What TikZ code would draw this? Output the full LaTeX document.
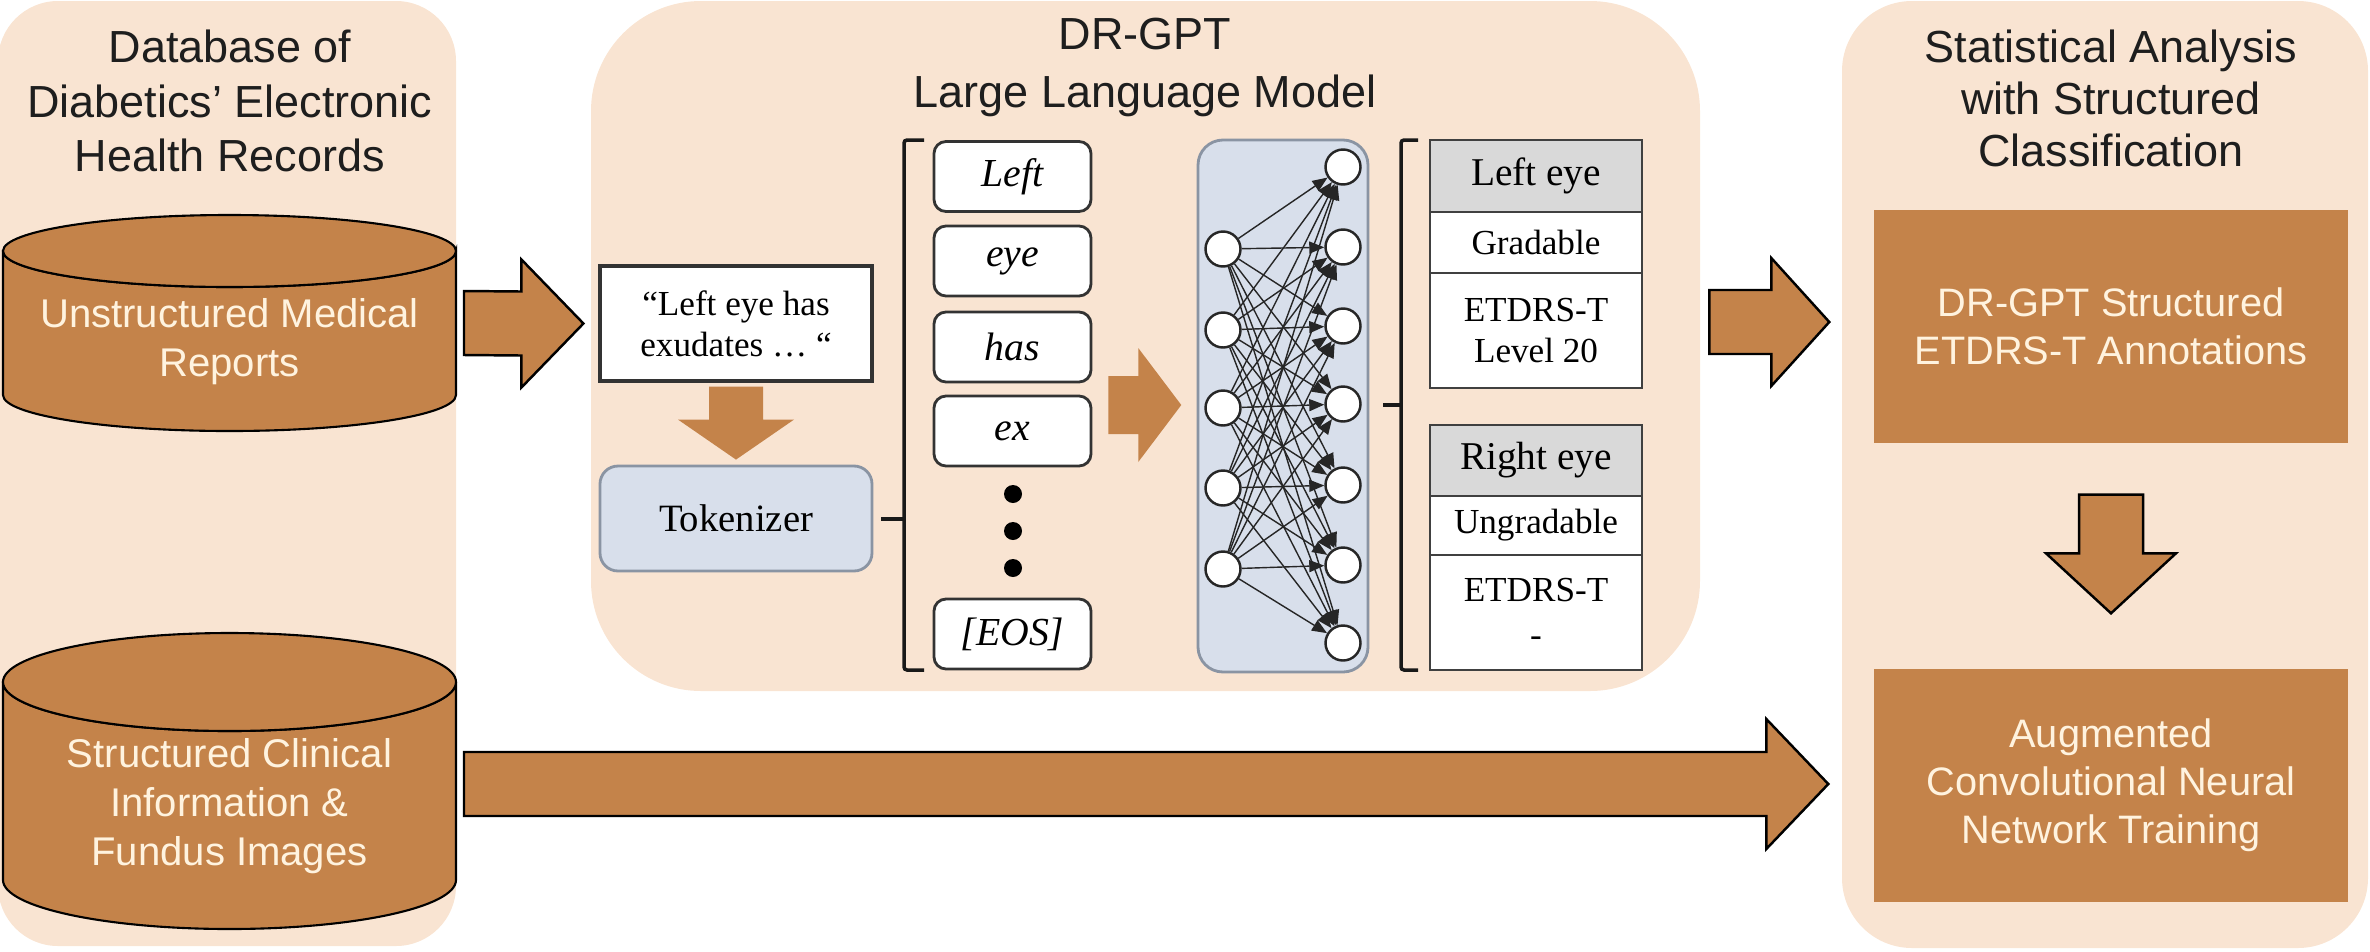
\documentclass[tikz,border=0pt]{standalone}
\usepackage{fontspec}
\setmainfont{Liberation Serif}
\newfontfamily\arialf{Liberation Sans}
\usetikzlibrary{calc,arrows.meta}
\definecolor{peach}{HTML}{F9E4D2}
\definecolor{brownf}{HTML}{C4834A}
\definecolor{cream}{HTML}{FFF3DF}
\definecolor{bluegray}{HTML}{D8DFEB}
\definecolor{bgborder}{HTML}{8A94A3}
\definecolor{hdrgray}{HTML}{D9D9D9}
\definecolor{inkc}{HTML}{1E1E1E}

\newcommand{\blockR}[6]{%
  \path[#1] ($(#2)+(0,-#5)$) -- ($(#3)+(-#4,-#5)$) -- ($(#3)+(-#4,-#6)$) -- (#3)
     -- ($(#3)+(-#4,#6)$) -- ($(#3)+(-#4,#5)$) -- ($(#2)+(0,#5)$) -- cycle;}
\newcommand{\blockD}[6]{%
  \path[#1] ($(#2)+(-#5,0)$) -- ($(#3)+(-#5,-#4)$) -- ($(#3)+(-#6,-#4)$) -- (#3)
     -- ($(#3)+(#6,-#4)$) -- ($(#3)+(#5,-#4)$) -- ($(#2)+(#5,0)$) -- cycle;}

\begin{document}
\begin{tikzpicture}[x=0.1mm,y=-0.1mm,
  panel/.style={fill=peach,draw=none},
  cyl/.style={fill=brownf,draw=black,line width=0.6pt},
  barrow/.style={fill=brownf,draw=black,line width=0.7pt,line join=miter},
  barrowplain/.style={fill=brownf,draw=none},
  cyltext/.style={text=cream,font=\arialf\fontsize{11.4}{13.9}\selectfont,align=center,inner sep=0},
  ptitle/.style={text=inkc,font=\arialf\fontsize{12.8}{15.4}\selectfont,align=center,inner sep=0},
  brownbox/.style={fill=brownf,draw=none,text=cream,font=\arialf\fontsize{11.3}{13.6}\selectfont,align=center,minimum width=47.4mm,minimum height=23.3mm,inner sep=0},
  tokbox/.style={draw=black!80,line width=0.8pt,fill=white,rounded corners=1.2mm,minimum width=15.7mm,minimum height=7mm,inner sep=0,font=\itshape\fontsize{11.3}{13}\selectfont},
  neuron/.style={circle,draw=black!85,line width=0.7pt,fill=white,minimum size=3.5mm,inner sep=0},
  cell/.style={draw=black!75,line width=0.8pt,fill=white,minimum width=21.2mm,inner sep=0,align=center,font=\fontsize{10}{11.7}\selectfont},
  hdr/.style={cell,fill=hdrgray,font=\fontsize{11.2}{13}\selectfont},
  bracket/.style={line width=1pt,rounded corners=0.3mm,draw=black!90},
  nnarrow/.style={-{Triangle[length=1.5mm,width=1.2mm]},line width=0.4pt,draw=black!85}
]
\useasboundingbox (0,0) rectangle (2370,951);

% panels
\path[panel,rounded corners=6mm] (-2,1) rectangle (456,946);
\path[panel,rounded corners=11mm] (591,1) rectangle (1700,691);
\path[panel,rounded corners=7mm] (1842,1) rectangle (2368,948);

% left panel
\node[ptitle] (ltitle) at (230,101) {Database of\\Diabetics’ Electronic\\Health Records};

\path[cyl] (3,251) -- (3,395) arc[start angle=180,end angle=360,x radius=22.65mm,y radius=3.6mm]
  -- (456,251) arc[start angle=0,end angle=-180,x radius=22.65mm,y radius=3.6mm] -- cycle;
\path[cyl] (229.5,251) ellipse [x radius=22.65mm,y radius=3.6mm];
\node[cyltext] (cyl1) at (229.5,342) {Unstructured Medical\\Reports};

\path[cyl] (3,682) -- (3,880) arc[start angle=180,end angle=360,x radius=22.65mm,y radius=4.9mm]
  -- (456,682) arc[start angle=0,end angle=-180,x radius=22.65mm,y radius=4.9mm] -- cycle;
\path[cyl] (229.5,682) ellipse [x radius=22.65mm,y radius=4.9mm];
\node[cyltext] (cyl2) at (229.5,806) {Structured Clinical\\Information \&\\Fundus Images};

% middle panel
\node[ptitle,font=\arialf\fontsize{12.8}{16.5}\selectfont] (mtitle) at (1145,67) {DR-GPT\\Large Language Model};

\node[draw=black!80,line width=0.9pt,fill=white,minimum width=27.2mm,minimum height=11.5mm,inner sep=0,align=center,
      font=\fontsize{10}{11.7}\selectfont] (quote) at (736,323.5) {“Left eye has\\exudates … “};
\node[draw=bgborder,line width=0.8pt,fill=bluegray,rounded corners=1.8mm,minimum width=27.2mm,minimum height=10.5mm,inner sep=0,
      font=\fontsize{11}{13}\selectfont] (tokenizer) at (736,518.5) {Tokenizer};

\node[tokbox] (t1) at (1012.5,176.5) {Left};
\node[tokbox] (t2) at (1012.5,261) {eye};
\node[tokbox] (t3) at (1012.5,347) {has};
\node[tokbox] (t4) at (1012.5,431) {ex};
\node[tokbox] (t5) at (1012.5,634) {[EOS]};
\fill[black] (1013,494) circle[radius=0.9mm] (1013,531) circle[radius=0.9mm] (1013,568) circle[radius=0.9mm];

\draw[bracket] (924,140) -- (904,140) -- (904,670) -- (924,670);
\draw[bracket] (904,519) -- (881,519);

% neural network
\path[fill=bluegray,draw=bgborder,line width=0.8pt,rounded corners=2.5mm] (1198,140) rectangle (1368,672);
\foreach \i/\y in {1/249,2/330,3/408,4/488,5/569} \node[neuron] (in\i) at (1223,\y) {};
\foreach \j/\y in {1/167,2/247,3/326,4/404,5/485,6/565,7/643} \node[neuron] (out\j) at (1343,\y) {};
\foreach \i in {1,...,5} \foreach \j in {1,...,7} \draw[nnarrow] (in\i) -- (out\j);

\draw[bracket] (1418,140) -- (1401,140) -- (1401,670) -- (1418,670);
\draw[bracket] (1401,405) -- (1383,405);

% output tables
\node[hdr,minimum height=7.2mm] (lhead) at (1536,176) {Left eye};
\node[cell,minimum height=6.1mm] (lgrad) at (1536,242.5) {Gradable};
\node[cell,minimum height=11.5mm] (llev) at (1536,330.5) {ETDRS-T\\Level 20};
\node[hdr,minimum height=7.1mm] (rhead) at (1536,460.5) {Right eye};
\node[cell,minimum height=5.9mm] (rgrad) at (1536,525.5) {Ungradable};
\node[cell,minimum height=11.5mm,font=\fontsize{10}{13}\selectfont] (rlev) at (1536,612.5) {ETDRS-T\\-};

% right panel
\node[ptitle,font=\arialf\fontsize{12.8}{14.8}\selectfont] (rtitle) at (2111,98.5) {Statistical Analysis\\with Structured\\Classification};
\node[brownbox] (ann) at (2111,326.5) {DR-GPT Structured\\ETDRS-T Annotations};
\node[brownbox] (cnn) at (2111,785.5) {Augmented\\Convolutional Neural\\Network Training};

% block arrows
\coordinate (a1s) at ($(cyl1.center)+(234.5,-19)$);
\coordinate (a1t) at ($(quote.west)+(-15,0)$);
\coordinate (a2s) at ($(lhead.east)+(66,146)$);
\coordinate (a2t) at ($(ann.west)+(-44,-4.5)$);
\coordinate (a3s) at ($(cyl2.center)+(234.5,-22)$);
\coordinate (a3t) at ($(cnn.west)+(-45,-1.5)$);
\coordinate (m1s) at ($(quote.south)+(0,4)$);
\coordinate (m1t) at ($(tokenizer.north)+(0,-5)$);
\coordinate (m2s) at ($(t4.east)+(16,-26)$);
\coordinate (m2t) at ($(in3.west)+(-23,-3)$);
\coordinate (r1s) at ($(ann.south)+(0,51)$);
\coordinate (r1t) at ($(cnn.north)+(0,-55)$);

\blockR{barrow}{a1s}{a1t}{62}{32}{64}
\blockR{barrow}{a2s}{a2t}{58}{32}{64}
\blockR{barrow}{a3s}{a3t}{62}{32}{65}
\blockD{barrowplain}{m1s}{m1t}{40}{27}{58}
\blockR{barrowplain}{m2s}{m2t}{43}{29}{57}
\blockD{barrow}{r1s}{r1t}{60}{32}{65}
\end{tikzpicture}
\end{document}
